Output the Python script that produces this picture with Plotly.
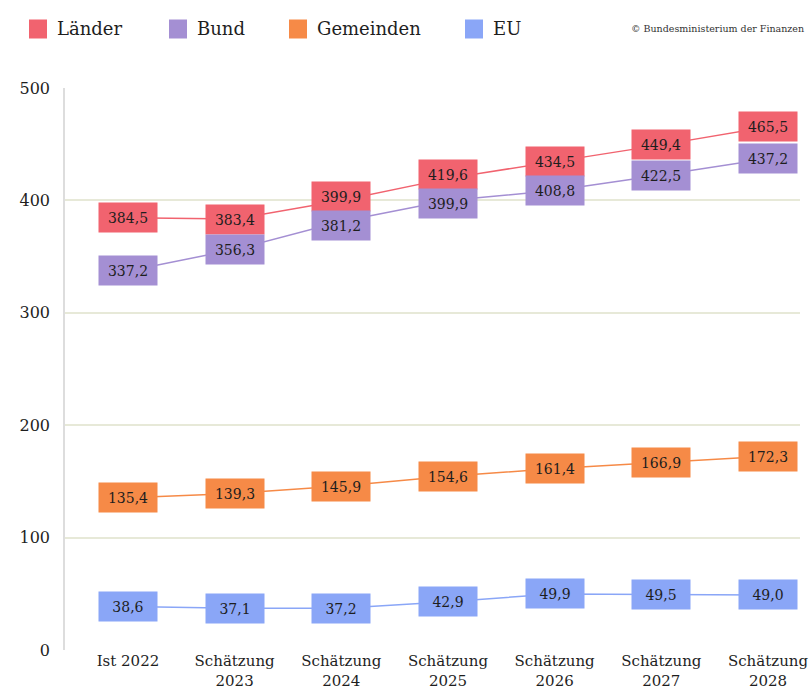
import plotly.graph_objects as go

categories = ["Ist 2022", "Schätzung<br>2023", "Schätzung<br>2024", "Schätzung<br>2025",
              "Schätzung<br>2026", "Schätzung<br>2027", "Schätzung<br>2028"]
laender = [384.5, 383.4, 399.9, 419.6, 434.5, 449.4, 465.5]
bund = [337.2, 356.3, 381.2, 399.9, 408.8, 422.5, 437.2]
gemeinden = [135.4, 139.3, 145.9, 154.6, 161.4, 166.9, 172.3]
eu = [38.6, 37.1, 37.2, 42.9, 49.9, 49.5, 49.0]
y_ticks = [0, 100, 200, 300, 400, 500]

series = [
    ("Länder", laender, "#f1636f"),
    ("Bund", bund, "#a48fd3"),
    ("Gemeinden", gemeinden, "#f68a47"),
    ("EU", eu, "#8aa6f7"),
]

FONT = "DejaVu Serif"
TXT = "#1e1e1e"
W, H = 810, 697
M = dict(l=65, r=10, t=88, b=47)
BOX_W, BOX_H = 56, 27
plot_w = W - M["l"] - M["r"]
plot_h = H - M["t"] - M["b"]
px_per_unit = plot_h / 500


def fmt(v):
    return f"{v:.1f}".replace(".", ",")


fig = go.Figure()
for name, vals, color in series:
    fig.add_trace(go.Scatter(x=categories, y=vals, mode="lines", name=name,
                             line=dict(color=color, width=1.5), showlegend=False,
                             hoverinfo="skip"))

# push Länder / Bund boxes apart where they would overlap
shift_l, shift_b = [], []
for l, b in zip(laender, bund):
    gap = (l - b) * px_per_unit
    s = max(0, (BOX_H + 2 - gap) / 2)
    shift_l.append(s)
    shift_b.append(-s)
shifts = {"Länder": shift_l, "Bund": shift_b}

annotations = []
for name, vals, color in series:
    for i, (c, v) in enumerate(zip(categories, vals)):
        annotations.append(dict(
            x=c, y=v, xref="x", yref="y", text=fmt(v), showarrow=False,
            bgcolor=color, width=BOX_W, height=BOX_H, borderpad=1,
            yshift=shifts.get(name, [0] * len(vals))[i],
            font=dict(family=FONT, size=14, color=TXT),
        ))

# legend built by hand
legend_x = [29, 169, 289, 465]
legend_y = 29
for (name, vals, color), lx in zip(series, legend_x):
    x0 = (lx - M["l"]) / plot_w
    x1 = (lx + 18 - M["l"]) / plot_w
    y0 = (H - M["b"] - legend_y - 9.5) / plot_h
    y1 = (H - M["b"] - legend_y + 9.5) / plot_h
    fig.add_shape(type="rect", xref="paper", yref="paper", x0=x0, x1=x1, y0=y0, y1=y1,
                  fillcolor=color, line=dict(width=0))
    annotations.append(dict(
        x=(lx + 26 - M["l"]) / plot_w, y=(H - M["b"] - legend_y) / plot_h,
        xref="paper", yref="paper", xanchor="left", yanchor="middle",
        text=name, showarrow=False, font=dict(family=FONT, size=18, color=TXT),
    ))

annotations.append(dict(
    x=(806 - M["l"]) / plot_w, y=(H - M["b"] - 29) / plot_h, xref="paper", yref="paper",
    xanchor="right", yanchor="middle", text="© Bundesministerium der Finanzen",
    showarrow=False, font=dict(family=FONT, size=9.5, color="#333333"),
))

fig.update_layout(
    width=W, height=H, margin=M,
    plot_bgcolor="white", paper_bgcolor="white",
    showlegend=False, annotations=annotations,
    font=dict(family=FONT, color=TXT),
)
fig.update_xaxes(range=[-0.59, 6.3], showgrid=False, zeroline=False, automargin=False,
                 tickfont=dict(size=15, color=TXT), ticks="")
fig.update_yaxes(range=[0, 500], tickvals=y_ticks, showgrid=True, gridcolor="#e7e9d8",
                 gridwidth=2, zeroline=False, showline=True, linecolor="#dddddd",
                 linewidth=1.5, tickfont=dict(size=16, color=TXT), ticks="",
                 ticklabelstandoff=10, automargin=False)

fig.write_html("out.html", config={"displayModeBar": False},
               post_script="document.body.style.margin='0';document.body.style.overflow='hidden';")
